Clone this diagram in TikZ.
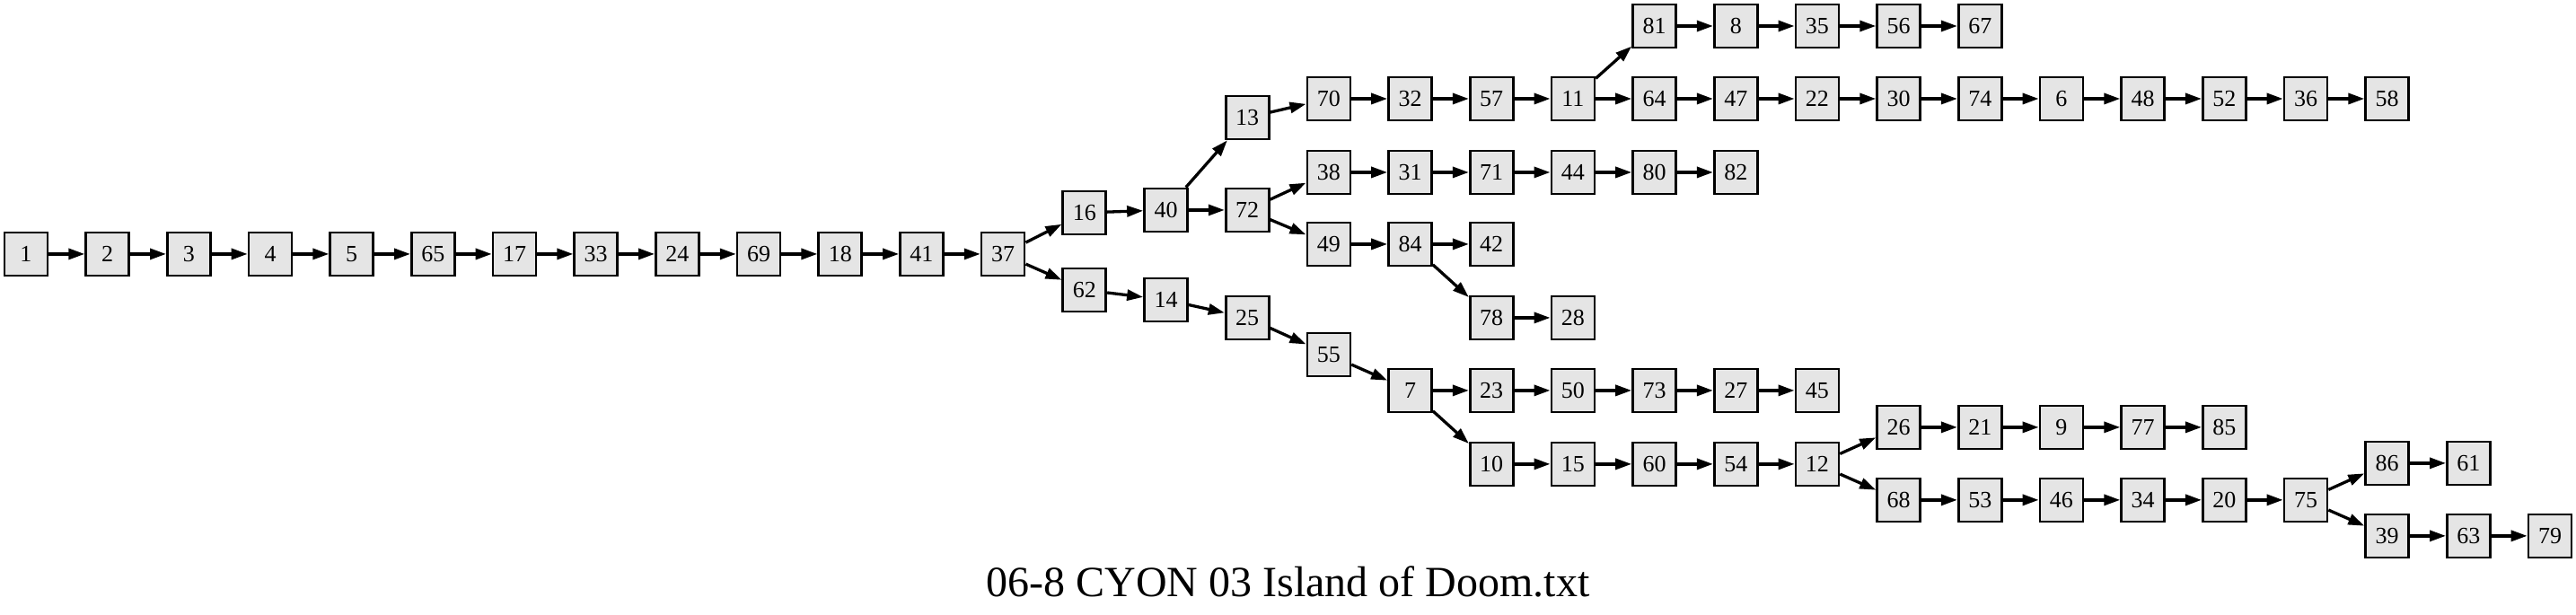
\documentclass[tikz,border=0pt]{standalone}
\usepackage{fontspec}
\setmainfont{Liberation Serif}
\usetikzlibrary{arrows.meta}

\begin{document}
\begin{tikzpicture}[x=90.7pt,y=-1pt,>={Triangle[length=18pt,width=12pt]}]
\tikzset{room/.style = {shape=rectangle,draw,fill=black!10,line width=2.7pt,minimum size=48pt,inner sep=0pt,font=\fontsize{26}{30}\selectfont}}
\tikzset{every path/.style = {line width=3.3pt}}
\useasboundingbox (-0.3197,0) rectangle (31.3197,685);
% vertices
\node[room] (1) at (0,283) {1};
\node[room] (2) at (1,283) {2};
\node[room] (3) at (2,283) {3};
\node[room] (4) at (3,283) {4};
\node[room] (5) at (4,283) {5};
\node[room] (65) at (5,283) {65};
\node[room] (17) at (6,283) {17};
\node[room] (33) at (7,283) {33};
\node[room] (24) at (8,283) {24};
\node[room] (69) at (9,283) {69};
\node[room] (18) at (10,283) {18};
\node[room] (41) at (11,283) {41};
\node[room] (37) at (12,283) {37};
\node[room] (16) at (13,237) {16};
\node[room] (62) at (13,323) {62};
\node[room] (40) at (14,234) {40};
\node[room] (14) at (14,334) {14};
\node[room] (13) at (15,131) {13};
\node[room] (72) at (15,234) {72};
\node[room] (25) at (15,354) {25};
\node[room] (70) at (16,110) {70};
\node[room] (38) at (16,192) {38};
\node[room] (49) at (16,272) {49};
\node[room] (55) at (16,395) {55};
\node[room] (32) at (17,110) {32};
\node[room] (31) at (17,192) {31};
\node[room] (84) at (17,272) {84};
\node[room] (7) at (17,435) {7};
\node[room] (57) at (18,110) {57};
\node[room] (71) at (18,192) {71};
\node[room] (42) at (18,272) {42};
\node[room] (78) at (18,354) {78};
\node[room] (23) at (18,435) {23};
\node[room] (10) at (18,517) {10};
\node[room] (11) at (19,110) {11};
\node[room] (44) at (19,192) {44};
\node[room] (28) at (19,354) {28};
\node[room] (50) at (19,435) {50};
\node[room] (15) at (19,517) {15};
\node[room] (81) at (20,29) {81};
\node[room] (64) at (20,110) {64};
\node[room] (80) at (20,192) {80};
\node[room] (73) at (20,435) {73};
\node[room] (60) at (20,517) {60};
\node[room] (8) at (21,29) {8};
\node[room] (47) at (21,110) {47};
\node[room] (82) at (21,192) {82};
\node[room] (27) at (21,435) {27};
\node[room] (54) at (21,517) {54};
\node[room] (35) at (22,29) {35};
\node[room] (22) at (22,110) {22};
\node[room] (45) at (22,435) {45};
\node[room] (12) at (22,517) {12};
\node[room] (56) at (23,29) {56};
\node[room] (30) at (23,110) {30};
\node[room] (26) at (23,476) {26};
\node[room] (68) at (23,557) {68};
\node[room] (67) at (24,29) {67};
\node[room] (74) at (24,110) {74};
\node[room] (21) at (24,476) {21};
\node[room] (53) at (24,557) {53};
\node[room] (6) at (25,110) {6};
\node[room] (9) at (25,476) {9};
\node[room] (46) at (25,557) {46};
\node[room] (48) at (26,110) {48};
\node[room] (77) at (26,476) {77};
\node[room] (34) at (26,557) {34};
\node[room] (52) at (27,110) {52};
\node[room] (85) at (27,476) {85};
\node[room] (20) at (27,557) {20};
\node[room] (36) at (28,110) {36};
\node[room] (75) at (28,557) {75};
\node[room] (58) at (29,110) {58};
\node[room] (86) at (29,516) {86};
\node[room] (39) at (29,597) {39};
\node[room] (61) at (30,516) {61};
\node[room] (63) at (30,597) {63};
\node[room] (79) at (31,597) {79};
% title
\node[anchor=base,font=\fontsize{48}{56}\selectfont] (title) at (15.5,665) {06-8 CYON 03 Island of Doom.txt};
%edges
\draw[->] (1) -- (2);
\draw[->] (2) -- (3);
\draw[->] (3) -- (4);
\draw[->] (4) -- (5);
\draw[->] (5) -- (65);
\draw[->] (65) -- (17);
\draw[->] (17) -- (33);
\draw[->] (33) -- (24);
\draw[->] (24) -- (69);
\draw[->] (69) -- (18);
\draw[->] (18) -- (41);
\draw[->] (41) -- (37);
\draw[->] (37) -- (16);
\draw[->] (37) -- (62);
\draw[->] (16) -- (40);
\draw[->] (40) -- (13);
\draw[->] (40) -- (72);
\draw[->] (13) -- (70);
\draw[->] (70) -- (32);
\draw[->] (32) -- (57);
\draw[->] (57) -- (11);
\draw[->] (11) -- (81);
\draw[->] (11) -- (64);
\draw[->] (81) -- (8);
\draw[->] (8) -- (35);
\draw[->] (35) -- (56);
\draw[->] (56) -- (67);
\draw[->] (64) -- (47);
\draw[->] (47) -- (22);
\draw[->] (22) -- (30);
\draw[->] (30) -- (74);
\draw[->] (74) -- (6);
\draw[->] (6) -- (48);
\draw[->] (48) -- (52);
\draw[->] (52) -- (36);
\draw[->] (36) -- (58);
\draw[->] (72) -- (38);
\draw[->] (72) -- (49);
\draw[->] (38) -- (31);
\draw[->] (31) -- (71);
\draw[->] (71) -- (44);
\draw[->] (44) -- (80);
\draw[->] (80) -- (82);
\draw[->] (49) -- (84);
\draw[->] (84) -- (42);
\draw[->] (84) -- (78);
\draw[->] (78) -- (28);
\draw[->] (62) -- (14);
\draw[->] (14) -- (25);
\draw[->] (25) -- (55);
\draw[->] (55) -- (7);
\draw[->] (7) -- (23);
\draw[->] (7) -- (10);
\draw[->] (23) -- (50);
\draw[->] (50) -- (73);
\draw[->] (73) -- (27);
\draw[->] (27) -- (45);
\draw[->] (10) -- (15);
\draw[->] (15) -- (60);
\draw[->] (60) -- (54);
\draw[->] (54) -- (12);
\draw[->] (12) -- (26);
\draw[->] (12) -- (68);
\draw[->] (26) -- (21);
\draw[->] (21) -- (9);
\draw[->] (9) -- (77);
\draw[->] (77) -- (85);
\draw[->] (68) -- (53);
\draw[->] (53) -- (46);
\draw[->] (46) -- (34);
\draw[->] (34) -- (20);
\draw[->] (20) -- (75);
\draw[->] (75) -- (86);
\draw[->] (75) -- (39);
\draw[->] (86) -- (61);
\draw[->] (39) -- (63);
\draw[->] (63) -- (79);
\end{tikzpicture}
\end{document}
